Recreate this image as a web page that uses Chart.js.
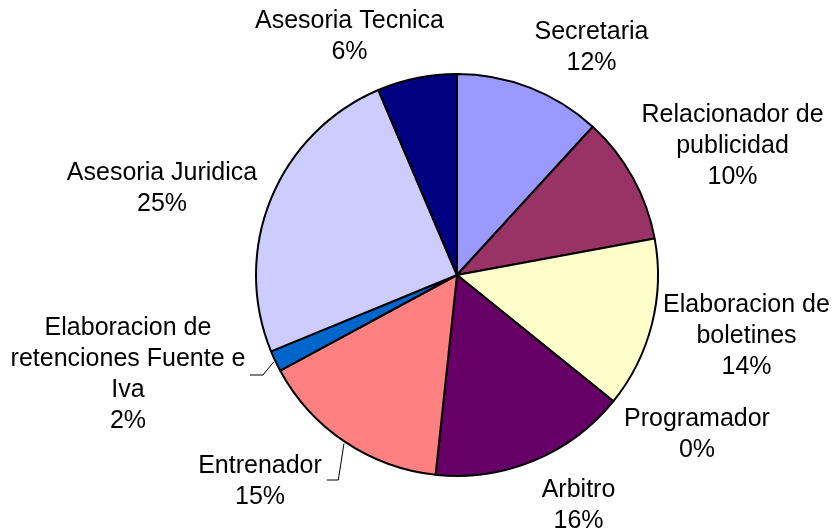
<!DOCTYPE html>
<html>
<head>
<meta charset="utf-8">
<script src="https://cdn.jsdelivr.net/npm/chart.js@4.4.1/dist/chart.umd.min.js"></script>
<style>
  html, body { margin: 0; padding: 0; background: #fff; }
  #wrap { width: 835px; height: 532px; }
</style>
</head>
<body>
<div id="wrap"><canvas id="pieChart" width="835" height="532"></canvas></div>
<script>
// categories, line breaks as in the original labels
const categories = [
  'Secretaria',
  'Relacionador de\npublicidad',
  'Elaboracion de\nboletines',
  'Programador',
  'Arbitro',
  'Entrenador',
  'Elaboracion de\nretenciones Fuente e\nIva',
  'Asesoria Juridica',
  'Asesoria Tecnica'
];
// share of each area (%)
const shares = [11.8, 10.3, 13.7, 0, 15.9, 15.4, 1.7, 24.8, 6.4];
const sliceColors = ['#9999FF', '#993366', '#FFFFCC', '#CCFFFF', '#660066', '#FF8080', '#0066CC', '#CCCCFF', '#000080'];

// label placement relative to the pie centre: [text centre x, first baseline y]
const labelOffsets = [
  [134.5, -235.7],
  [275.5, -153.3],
  [289.5, 36.7],
  [240, 150.7],
  [121.5, 221.7],
  [-197, 198.3],
  [-329, 60],
  [-295, -95],
  [-107.5, -246.7]
];
// leader lines: [elbow dx, elbow dy, end dx], null = none
const leaders = [null, null, null, null, null, [-118.7, 205, -130.3], [-194, 100, -207], null, null];
const lineGap = 31;

const pieLabels = {
  id: 'pieLabels',
  afterDatasetsDraw(chart) {
    const ctx = chart.ctx;
    const meta = chart.getDatasetMeta(0);
    const total = shares.reduce((a, b) => a + b, 0);
    ctx.save();
    ctx.font = '25px "Liberation Sans", Arial, sans-serif';
    ctx.fillStyle = '#000';
    ctx.strokeStyle = '#000';
    ctx.lineWidth = 1;
    ctx.textAlign = 'center';
    ctx.textBaseline = 'alphabetic';
    meta.data.forEach((arc, i) => {
      const cx = arc.x, cy = arc.y;
      const lines = categories[i].split('\n');
      lines.push(Math.round(shares[i] / total * 100) + '%');
      const [dx, dy] = labelOffsets[i];
      lines.forEach((t, k) => ctx.fillText(t, cx + dx, cy + dy + k * lineGap));

      const ld = leaders[i];
      if (ld) {
        const mid = (arc.startAngle + arc.endAngle) / 2;
        const r = arc.outerRadius + 2;
        ctx.beginPath();
        ctx.moveTo(cx + Math.cos(mid) * r, cy + Math.sin(mid) * r);
        ctx.lineTo(cx + ld[0], cy + ld[1]);
        ctx.lineTo(cx + ld[2], cy + ld[1]);
        ctx.stroke();
      }
    });
    ctx.restore();
  }
};

new Chart(document.getElementById('pieChart'), {
  type: 'pie',
  data: {
    labels: categories,
    datasets: [{
      data: shares,
      backgroundColor: sliceColors,
      borderColor: '#000',
      borderWidth: 2,
      radius: 201
    }]
  },
  options: {
    responsive: false,
    devicePixelRatio: 1,
    animation: false,
    events: [],
    layout: { padding: { left: 79, right: 0, top: 18, bottom: 0 } },
    plugins: {
      legend: { display: false },
      tooltip: { enabled: false }
    }
  },
  plugins: [pieLabels]
});
</script>
</body>
</html>
